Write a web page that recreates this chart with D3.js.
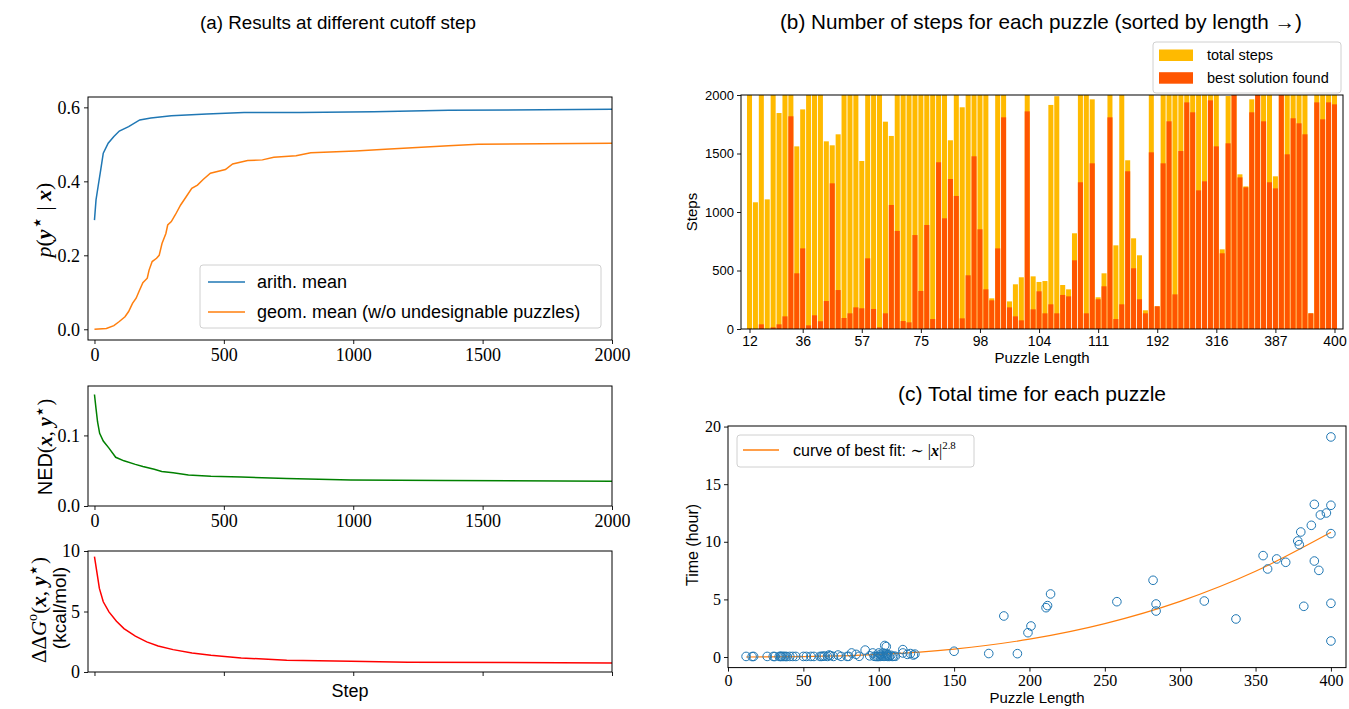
<!DOCTYPE html>
<html>
<head>
<meta charset="utf-8">
<script src="https://cdn.jsdelivr.net/npm/d3@7"></script>
<style>
body { margin: 0; background: #fff; }
</style>
</head>
<body>
<div id="chart"></div>
<script>

// ---- (a) cutoff-step curves ----
var arithSteps = [0, 6, 14, 24, 34, 53, 75, 96, 132, 175, 218, 297, 434, 578, 793, 1080, 1368, 2000];
var arithMean  = [0.295, 0.35, 0.386, 0.43, 0.476, 0.503, 0.521, 0.536, 0.548, 0.566, 0.571, 0.577, 0.582, 0.586, 0.586, 0.588, 0.592, 0.595];

var geomSteps = [0, 46, 75, 96, 118, 132, 147, 161, 172, 187, 204, 211, 223, 240, 250, 261, 276, 283, 297, 312,
                 333, 355, 376, 398, 420, 448, 506, 534, 592, 649, 693, 779, 836, 1009, 1124, 1368, 1483, 2000];
var geomMean  = [0, 0.002, 0.01, 0.021, 0.034, 0.048, 0.07, 0.084, 0.102, 0.126, 0.138, 0.16, 0.183, 0.192, 0.2, 0.232, 0.259, 0.282, 0.291, 0.309,
                 0.336, 0.359, 0.381, 0.39, 0.405, 0.422, 0.432, 0.447, 0.456, 0.458, 0.465, 0.469, 0.477, 0.482, 0.487, 0.496, 0.5, 0.503];

var nedSteps = [0, 6, 12, 20, 34, 56, 82, 114, 158, 187, 231, 260, 304, 363, 450, 567, 743, 991, 1357, 2000];
var nedVals  = [0.158, 0.138, 0.119, 0.103, 0.092, 0.082, 0.069, 0.064, 0.059, 0.056, 0.052, 0.049, 0.047, 0.044, 0.042, 0.041, 0.039, 0.037, 0.036, 0.035];

var ddgSteps = [0, 9, 19, 34, 56, 85, 114, 158, 202, 246, 304, 377, 450, 567, 743, 991, 1211, 2000];
var ddgVals  = [9.53, 8.29, 6.91, 5.8, 4.97, 4.2, 3.59, 2.96, 2.49, 2.15, 1.85, 1.57, 1.38, 1.16, 0.97, 0.88, 0.80, 0.75];

var stepTicks = [0, 500, 1000, 1500, 2000];

// ---- (b) and (c) per puzzle, sorted by length ----
var puzzleLengths = [12, 16, 17, 26, 30, 31, 34, 35, 35, 36,
                     37, 38, 39, 41, 43, 45, 50, 52, 55, 57,
                     61, 62, 63, 64, 66, 67, 68, 70, 73, 75,
                     79, 80, 82, 85, 87, 91, 94, 96, 97, 98,
                     99, 100, 100, 101, 101, 102, 103, 103, 104, 104,
                     105, 105, 105, 106, 106, 107, 108, 109, 110, 111,
                     116, 116, 119, 121, 123, 124, 150, 173, 183, 192,
                     199, 201, 211, 212, 214, 258, 282, 284, 284, 316,
                     337, 355, 358, 364, 370, 378, 379, 380, 382, 387,
                     389, 389, 392, 393, 397, 400, 400, 400, 400, 400];

var totalSteps = [2000, 1083, 2000, 1108, 2000, 1846, 2000, 2000, 1561, 1877,
                  2000, 2000, 2000, 1604, 1570, 1664, 2000, 2000, 2000, 1436,
                  2000, 2000, 2000, 1772, 1650, 2000, 2000, 2000, 2000, 2000,
                  2000, 2000, 2000, 2000, 1613, 2000, 1895, 2000, 2000, 2000,
                  2000, 262, 2000, 2000, 236, 382, 442, 2000, 450, 402,
                  410, 1915, 1990, 376, 339, 818, 2000, 2000, 1963, 271,
                  476, 2000, 715, 2000, 1442, 775, 630, 160, 2000, 194,
                  2000, 2000, 2000, 2000, 2000, 2000, 2000, 2000, 2000, 2000,
                  681, 1991, 2000, 1322, 1219, 1963, 2000, 2000, 2000, 1305,
                  2000, 2000, 2000, 2000, 2000, 134, 2000, 2000, 2000, 2000];

var bestSteps = [2, 0, 40, 0, 14, 40, 108, 1818, 476, 689,
                 31, 117, 66, 239, 1245, 333, 94, 134, 185, 177,
                 604, 171, 14, 134, 1060, 838, 68, 57, 803, 325,
                 889, 85, 1425, 946, 1282, 1137, 91, 459, 1476, 852,
                 339, 245, 689, 1809, 185, 108, 74, 1860, 168, 322,
                 134, 211, 134, 291, 279, 587, 1254, 134, 1416, 254,
                 365, 1809, 85, 211, 1348, 519, 254, 134, 1510, 194,
                 1416, 1775, 296, 1521, 1937, 1852, 1185, 1262, 1954, 1561,
                 647, 1587, 2000, 1296, 1211, 1852, 2000, 1775, 1254, 1202,
                 2000, 1493, 1801, 1758, 1664, 134, 1937, 1792, 1937, 1920];

var lengthTickIdx = [0, 9, 19, 29, 39, 49, 59, 69, 79, 89, 99];

var puzzleHours = [0.05, 0.04, 0.05, 0.05, 0.05, 0.04, 0.05, 0.05, 0.05, 0.05,
                   0.05, 0.05, 0.04, 0.05, 0.05, 0.05, 0.05, 0.05, 0.05, 0.05,
                   0.05, 0.05, 0.06, 0.08, 0.05, 0.17, 0.12, 0.05, 0.17, 0.05,
                   0.05, 0.06, 0.35, 0.23, 0.06, 0.6, 0.1, 0.35, 0.06, 0.05,
                   0.04, 0.35, 0.05, 0.23, 0.05, 0.1, 0.35, 0.06, 1.0, 0.06,
                   0.9, 0.1, 0.3, 0.05, 0.2, 0.05, 0.15, 0.05, 0.06, 0.06,
                   0.64, 0.35, 0.23, 0.3, 0.17, 0.25, 0.5, 0.3, 3.56, 0.29,
                   2.11, 2.69, 4.28, 4.46, 5.47, 4.80, 6.66, 4.60, 3.99, 4.86,
                   3.30, 8.80, 7.64, 8.51, 8.22, 10.07, 9.75, 10.85, 4.40, 11.43,
                   13.25, 8.33, 7.52, 12.33, 12.50, 1.39, 19.10, 13.17, 10.71, 4.66];

var fitLengths = [12, 50, 100, 150, 200, 250, 300, 350, 400];
var fitHours   = [0.001, 0.032, 0.223, 0.69, 1.55, 2.90, 4.83, 7.44, 10.82];

var SANS = '"Liberation Sans", Arial, sans-serif';
var SERIF = '"Liberation Serif", "DejaVu Serif", serif';
var STAR = '"DejaVu Sans", sans-serif';

var svg = d3.select('#chart')
  .append('svg')
    .attr('width', 1349)
    .attr('height', 709);

function frame(x0, y0, x1, y1) {
  svg.append('rect')
    .attr('x', x0).attr('y', y0)
    .attr('width', x1 - x0).attr('height', y1 - y0)
    .attr('fill', 'none').attr('stroke', '#000').attr('stroke-width', 1);
}

function styleAxis(g, font, size) {
  g.select('.domain').remove();
  g.selectAll('line').attr('stroke', '#000').attr('stroke-width', 0.9);
  g.selectAll('text').attr('font-family', font).attr('font-size', size).attr('fill', '#000');
}

// text with italic / bold / superscript pieces
function mathText(parent, segs, size) {
  var t = parent.append('text').attr('font-size', size).attr('fill', '#000');
  var shift = 0;
  segs.forEach(function(s) {
    var sp = t.append('tspan').text(s.t)
      .attr('font-family', s.star ? STAR : (s.sans ? SANS : SERIF))
      .attr('font-style', s.it ? 'italic' : 'normal')
      .attr('font-weight', s.b ? 'bold' : 'normal');
    var target = s.sup ? -size * (s.star ? 0.3 : 0.42) : 0;
    if (target !== shift) { sp.attr('dy', target - shift); shift = target; }
    if (s.sup) sp.attr('font-size', size * (s.star ? 0.95 : 0.68));
  });
  return t;
}

function yLabel(segs, size, x, y) {
  mathText(svg, segs, size)
    .attr('text-anchor', 'middle')
    .attr('transform', 'translate(' + x + ',' + y + ')rotate(-90)');
}

// ================= panel (a) =================
var xs = d3.scaleLinear().domain([-25, 2000]).range([88, 612]);
var yTop = d3.scaleLinear().domain([-0.029, 0.628]).range([340, 97]);
var yMid = d3.scaleLinear().domain([0, 0.17]).range([506, 386]);
var yBot = d3.scaleLinear().domain([0, 10]).range([672, 551]);

function drawLine(xv, yv, ys, color) {
  var pts = xv.map(function(d, i) { return [d, yv[i]]; });
  svg.append('path')
    .datum(pts)
    .attr('fill', 'none')
    .attr('stroke', color)
    .attr('stroke-width', 1.5)
    .attr('d', d3.line().x(function(d) { return xs(d[0]); }).y(function(d) { return ys(d[1]); }));
}

drawLine(arithSteps, arithMean, yTop, '#1f77b4');
drawLine(geomSteps, geomMean, yTop, '#ff7f0e');
drawLine(nedSteps, nedVals, yMid, 'green');
drawLine(ddgSteps, ddgVals, yBot, 'red');

frame(88, 97, 612, 340);
frame(88, 386, 612, 506);
frame(88, 551, 612, 672);

svg.append('g').attr('transform', 'translate(0,340)')
  .call(d3.axisBottom(xs).tickValues(stepTicks).tickSize(4).tickPadding(4).tickFormat(d3.format('d')))
  .call(styleAxis, SERIF, 18);
svg.append('g').attr('transform', 'translate(0,506)')
  .call(d3.axisBottom(xs).tickValues(stepTicks).tickSize(4).tickPadding(4).tickFormat(d3.format('d')))
  .call(styleAxis, SERIF, 18);
svg.append('g').attr('transform', 'translate(0,672)')
  .call(d3.axisBottom(xs).tickValues(stepTicks).tickSize(4).tickFormat(''))
  .call(styleAxis, SERIF, 18);

svg.append('g').attr('transform', 'translate(88,0)')
  .call(d3.axisLeft(yTop).tickValues([0, 0.2, 0.4, 0.6]).tickSize(4).tickPadding(4).tickFormat(d3.format('.1f')))
  .call(styleAxis, SERIF, 18);
svg.append('g').attr('transform', 'translate(88,0)')
  .call(d3.axisLeft(yMid).tickValues([0, 0.1]).tickSize(4).tickPadding(4).tickFormat(d3.format('.1f')))
  .call(styleAxis, SERIF, 18);
svg.append('g').attr('transform', 'translate(88,0)')
  .call(d3.axisLeft(yBot).tickValues([0, 5, 10]).tickSize(4).tickPadding(4).tickFormat(d3.format('d')))
  .call(styleAxis, SERIF, 18);

// legend (a)
var legA = svg.append('g');
legA.append('rect').attr('x', 200).attr('y', 265).attr('width', 401).attr('height', 63).attr('rx', 3)
  .attr('fill', '#fff').attr('fill-opacity', 0.8).attr('stroke', '#d0d0d0');
[['arith. mean', '#1f77b4'], ['geom. mean (w/o undesignable puzzles)', '#ff7f0e']].forEach(function(d, i) {
  legA.append('line').attr('x1', 208).attr('x2', 245).attr('y1', 282 + i * 30).attr('y2', 282 + i * 30)
    .attr('stroke', d[1]).attr('stroke-width', 1.5);
  legA.append('text').attr('x', 257).attr('y', 288 + i * 30)
    .attr('font-family', SANS).attr('font-size', 18).text(d[0]);
});

svg.append('text')
  .attr('x', 338).attr('y', 29)
  .attr('text-anchor', 'middle')
  .attr('font-family', SANS).attr('font-size', 18.8)
  .text('(a) Results at different cutoff step');

svg.append('text')
  .attr('x', 350).attr('y', 697)
  .attr('text-anchor', 'middle')
  .attr('font-family', SANS).attr('font-size', 18)
  .text('Step');

yLabel([{t: 'p', it: 1}, {t: '('}, {t: 'y', it: 1, b: 1}, {t: '\u22c6', sup: 1, star: 1}, {t: ' | '}, {t: 'x', it: 1, b: 1}, {t: ')'}], 22, 51, 220);
yLabel([{t: 'NED', sans: 1}, {t: '('}, {t: 'x', it: 1, b: 1}, {t: ', '}, {t: 'y', it: 1, b: 1}, {t: '\u22c6', sup: 1, star: 1}, {t: ')'}], 20, 52, 447);
yLabel([{t: '\u0394\u0394'}, {t: 'G', it: 1}, {t: 'o', sup: 1}, {t: '('}, {t: 'x', it: 1, b: 1}, {t: ', '}, {t: 'y', it: 1, b: 1}, {t: '\u22c6', sup: 1, star: 1}, {t: ')'}], 21, 46, 610);
yLabel([{t: '(kcal/mol)', sans: 1}], 19, 66, 608);

// ================= panel (b) =================
var xb = d3.scaleLinear().domain([-1.44, 100.44]).range([741, 1343]);
var yb = d3.scaleLinear().domain([0, 2000]).range([329, 95]);
var barW = xb(0.85) - xb(0);

svg.append('g').selectAll('rect')
  .data(totalSteps)
  .enter().append('rect')
    .attr('x', function(d, i) { return xb(i) - barW / 2; })
    .attr('y', function(d) { return yb(d); })
    .attr('width', barW)
    .attr('height', function(d) { return yb(0) - yb(d); })
    .attr('fill', '#ffba00');

svg.append('g').selectAll('rect')
  .data(bestSteps)
  .enter().append('rect')
    .attr('x', function(d, i) { return xb(i) - barW / 2; })
    .attr('y', function(d) { return yb(d); })
    .attr('width', barW)
    .attr('height', function(d) { return yb(0) - yb(d); })
    .attr('fill', '#ff5500');

frame(741, 95, 1343, 329);

svg.append('g').attr('transform', 'translate(0,329)')
  .call(d3.axisBottom(xb).tickValues(lengthTickIdx).tickSize(4).tickPadding(3)
    .tickFormat(function(i) { return puzzleLengths[i]; }))
  .call(styleAxis, SANS, 14);
svg.append('g').attr('transform', 'translate(741,0)')
  .call(d3.axisLeft(yb).tickValues([0, 500, 1000, 1500, 2000]).tickSize(4).tickPadding(3).tickFormat(d3.format('d')))
  .call(styleAxis, SANS, 13);

svg.append('text')
  .attr('x', 1041).attr('y', 29)
  .attr('text-anchor', 'middle')
  .attr('font-family', SANS).attr('font-size', 20.7)
  .text('(b) Number of steps for each puzzle (sorted by length \u2192)');

svg.append('text')
  .attr('x', 1042).attr('y', 363)
  .attr('text-anchor', 'middle')
  .attr('font-family', SANS).attr('font-size', 15)
  .text('Puzzle Length');

svg.append('text')
  .attr('text-anchor', 'middle')
  .attr('transform', 'translate(697,212)rotate(-90)')
  .attr('font-family', SANS).attr('font-size', 15)
  .text('Steps');

var legB = svg.append('g');
legB.append('rect').attr('x', 1153).attr('y', 42).attr('width', 188).attr('height', 51).attr('rx', 3)
  .attr('fill', '#fff').attr('stroke', '#d0d0d0');
[['total steps', '#ffba00'], ['best solution found', '#ff5500']].forEach(function(d, i) {
  legB.append('rect').attr('x', 1159).attr('y', 49.5 + i * 22.7).attr('width', 34).attr('height', 11.5).attr('fill', d[1]);
  legB.append('text').attr('x', 1207).attr('y', 60 + i * 23)
    .attr('font-family', SANS).attr('font-size', 14.5).text(d[0]);
});

// ================= panel (c) =================
var xc = d3.scaleLinear().domain([0, 410]).range([728, 1346]);
var yc = d3.scaleLinear().domain([-0.92, 20.05]).range([667.6, 426]);

var fitPts = fitLengths.map(function(d, i) { return [d, fitHours[i]]; });
svg.append('path')
  .datum(fitPts)
  .attr('fill', 'none')
  .attr('stroke', '#ff7f0e')
  .attr('stroke-width', 1.2)
  .attr('d', d3.line().curve(d3.curveMonotoneX)
    .x(function(d) { return xc(d[0]); }).y(function(d) { return yc(d[1]); }));

svg.append('g').selectAll('circle')
  .data(puzzleLengths)
  .enter().append('circle')
    .attr('cx', function(d) { return xc(d); })
    .attr('cy', function(d, i) { return yc(puzzleHours[i]); })
    .attr('r', 4.3)
    .attr('fill', 'none')
    .attr('stroke', '#1f77b4')
    .attr('stroke-width', 1);

frame(728, 426, 1346, 667.6);

svg.append('g').attr('transform', 'translate(0,667.6)')
  .call(d3.axisBottom(xc).tickValues(d3.range(0, 401, 50)).tickSize(4).tickPadding(3))
  .call(styleAxis, SERIF, 16);
svg.append('g').attr('transform', 'translate(728,0)')
  .call(d3.axisLeft(yc).tickValues([0, 5, 10, 15, 20]).tickSize(4).tickPadding(3))
  .call(styleAxis, SERIF, 16);

svg.append('text')
  .attr('x', 1032).attr('y', 401)
  .attr('text-anchor', 'middle')
  .attr('font-family', SANS).attr('font-size', 21)
  .text('(c) Total time for each puzzle');

svg.append('text')
  .attr('x', 1037).attr('y', 703)
  .attr('text-anchor', 'middle')
  .attr('font-family', SANS).attr('font-size', 15)
  .text('Puzzle Length');

svg.append('text')
  .attr('text-anchor', 'middle')
  .attr('transform', 'translate(698,545)rotate(-90)')
  .attr('font-family', SANS).attr('font-size', 16)
  .text('Time (hour)');

var legC = svg.append('g');
legC.append('rect').attr('x', 737).attr('y', 435).attr('width', 237).attr('height', 32).attr('rx', 3)
  .attr('fill', '#fff').attr('fill-opacity', 0.8).attr('stroke', '#d0d0d0');
legC.append('line').attr('x1', 743).attr('x2', 779).attr('y1', 450).attr('y2', 450)
  .attr('stroke', '#ff7f0e').attr('stroke-width', 1.5);
mathText(legC, [{t: 'curve of best fit: ', sans: 1}, {t: '\u223c |'}, {t: 'x', it: 1, b: 1}, {t: '|'}, {t: '2.8', sup: 1}], 16)
  .attr('x', 793).attr('y', 456);

</script>
</body>
</html>
